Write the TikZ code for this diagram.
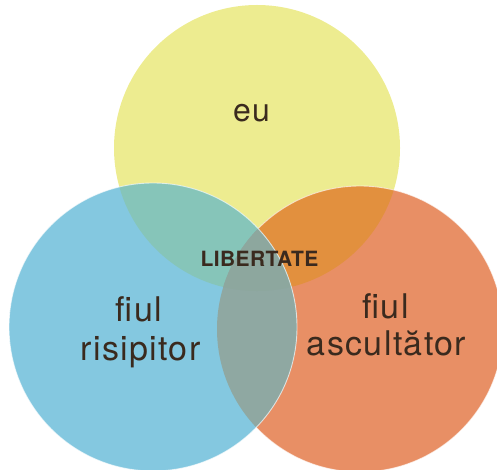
\documentclass[tikz,border=0pt]{standalone}
\usepackage{fontspec}
\setmainfont{TeX Gyre Heros}
\newfontfamily\labelfont[LetterSpace=4]{TeX Gyre Heros}
\newfontfamily\boldlabelfont[LetterSpace=2]{TeX Gyre Heros Bold}
\definecolor{cyel}{HTML}{EDEC90}
\definecolor{cblu}{HTML}{84C8E0}
\definecolor{cora}{HTML}{E88F65}
\definecolor{cyb}{HTML}{86C5B9}
\definecolor{cyo}{HTML}{E2903E}
\definecolor{cbo}{HTML}{8FA8A2}
\definecolor{cybo}{HTML}{8DA79E}
\definecolor{ctxt}{HTML}{3A2A1E}
\tikzset{
  lbl/.style={font=\labelfont\fontsize{34}{40}\selectfont, text=ctxt, inner sep=0pt, anchor=base},
  eulbl/.style={font=\labelfont\fontsize{32}{38}\selectfont, text=ctxt, inner sep=0pt, anchor=base},
  blbl/.style={font=\boldlabelfont\fontsize{21}{24}\selectfont, text=ctxt, inner sep=0pt, anchor=base},
  rim/.style={draw=white, draw opacity=0.65, line width=0.9pt}
}
\begin{document}
\begin{tikzpicture}[x=1pt,y=-1pt]
\useasboundingbox (0,0) rectangle (497,470);
\coordinate (Y) at (257,148);
\coordinate (B) at (153,327);
\coordinate (O) at (360,329);
% yellow and orange
\fill[cyel] (Y) circle[radius=143pt];
\fill[cora] (O) circle[radius=143pt];
\begin{scope}
  \clip (Y) circle[radius=143pt];
  \fill[cyo] (O) circle[radius=143pt];
\end{scope}
\draw[rim] (O) circle[radius=143pt];
% blue
\fill[cblu] (B) circle[radius=144pt];
\begin{scope}
  \clip (Y) circle[radius=143pt];
  \fill[cyb] (B) circle[radius=144pt];
\end{scope}
\begin{scope}
  \clip (O) circle[radius=143pt];
  \fill[cbo] (B) circle[radius=144pt];
\end{scope}
\begin{scope}
  \clip (Y) circle[radius=143pt];
  \clip (O) circle[radius=143pt];
  \fill[cybo] (B) circle[radius=144pt];
\end{scope}
\draw[rim] (B) circle[radius=144pt];
% labels
\node[eulbl] (eu) at (251.5,121.7) {eu};
\node[blbl] (lib) at (259.5,266.7) {LIBERTATE};
\node[lbl] (fl1) at (139,321.5) {fiul};
\node[lbl] (fl2) at (140.5,360) {risipitor};
\node[lbl] (fr1) at (385.5,318.3) {fiul};
\node[lbl] (fr2) at (386.5,355.7) {ascultător};
\end{tikzpicture}
\end{document}
